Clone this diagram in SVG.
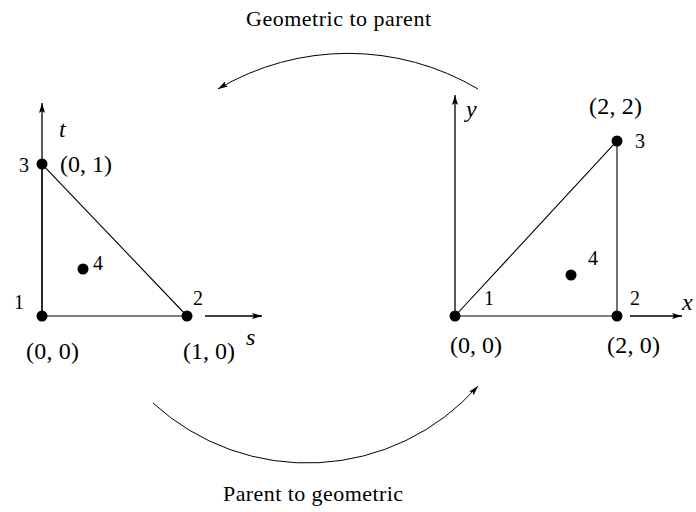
<svg xmlns="http://www.w3.org/2000/svg" width="696" height="512" viewBox="0 0 696 512">
<defs>
<marker id="ah" viewBox="0 0 10 6" refX="10" refY="3" markerWidth="10" markerHeight="6" markerUnits="userSpaceOnUse" orient="auto">
<path d="M0,0 L10,3 L0,6 L2,3 Z" fill="#000"/>
</marker>
</defs>
<style>
.ax{stroke:#000;stroke-width:1.3;fill:none}
.ed{stroke:#000;stroke-width:1.1;fill:none}
.arc{stroke:#000;stroke-width:1;fill:none}
.nd{fill:#000}
.num{font-family:"Liberation Serif",serif;font-size:20px;fill:#000}
.crd{font-family:"Liberation Serif",serif;font-size:24px;fill:#000}
.var{font-family:"Liberation Serif",serif;font-size:24px;font-style:italic;fill:#000}
.cap{font-family:"Liberation Serif",serif;font-size:22px;fill:#000}
</style>
<g id="connectors">
<path class="arc" d="M478,89 A255,255 0 0 0 218,89" marker-end="url(#ah)"/>
<path class="arc" d="M153,403 A228,228 0 0 0 478,386" marker-end="url(#ah)"/>
</g>
<g id="parent">
<line class="ax" x1="42" y1="316" x2="42" y2="103" marker-end="url(#ah)"/>
<line class="ax" x1="205" y1="316" x2="262" y2="316" marker-end="url(#ah)"/>
<polyline class="ed" points="187,316 42,316 42,164 187,316"/>
<text class="var" x="59" y="137">t</text>
<text class="var" x="246" y="345">s</text>
</g>
<g id="p1"><circle class="nd" cx="42" cy="316" r="5.5"/><text class="num" x="14" y="309">1</text><text class="crd" x="26" y="359" textLength="53">(0, 0)</text></g>
<g id="p2"><circle class="nd" cx="187" cy="316" r="5.5"/><text class="num" x="193" y="305">2</text><text class="crd" x="183" y="359" textLength="52">(1, 0)</text></g>
<g id="p3"><circle class="nd" cx="42" cy="164" r="5.5"/><text class="num" x="19" y="172">3</text><text class="crd" x="60" y="172" textLength="52">(0, 1)</text></g>
<g id="p4"><circle class="nd" cx="83" cy="269" r="5.5"/><text class="num" x="93" y="270">4</text></g>
<g id="geometric">
<line class="ax" x1="455" y1="316" x2="455" y2="95" marker-end="url(#ah)"/>
<line class="ax" x1="630" y1="316" x2="682" y2="316" marker-end="url(#ah)"/>
<polyline class="ed" points="455,316 617,316 617,141 455,316"/>
<text class="var" x="466" y="117">y</text>
<text class="var" x="682" y="310">x</text>
</g>
<g id="g1"><circle class="nd" cx="455" cy="316" r="5.5"/><text class="num" x="484" y="305">1</text><text class="crd" x="450" y="353" textLength="52">(0, 0)</text></g>
<g id="g2"><circle class="nd" cx="617" cy="316" r="5.5"/><text class="num" x="630" y="305">2</text><text class="crd" x="607" y="353" textLength="53">(2, 0)</text></g>
<g id="g3"><circle class="nd" cx="617" cy="141" r="5.5"/><text class="num" x="635" y="148">3</text><text class="crd" x="589" y="114" textLength="53">(2, 2)</text></g>
<g id="g4"><circle class="nd" cx="571" cy="275" r="5.5"/><text class="num" x="588" y="265">4</text></g>
<text class="cap" x="246" y="26" textLength="185">Geometric to parent</text>
<text class="cap" x="223" y="501" textLength="180">Parent to geometric</text>
</svg>
